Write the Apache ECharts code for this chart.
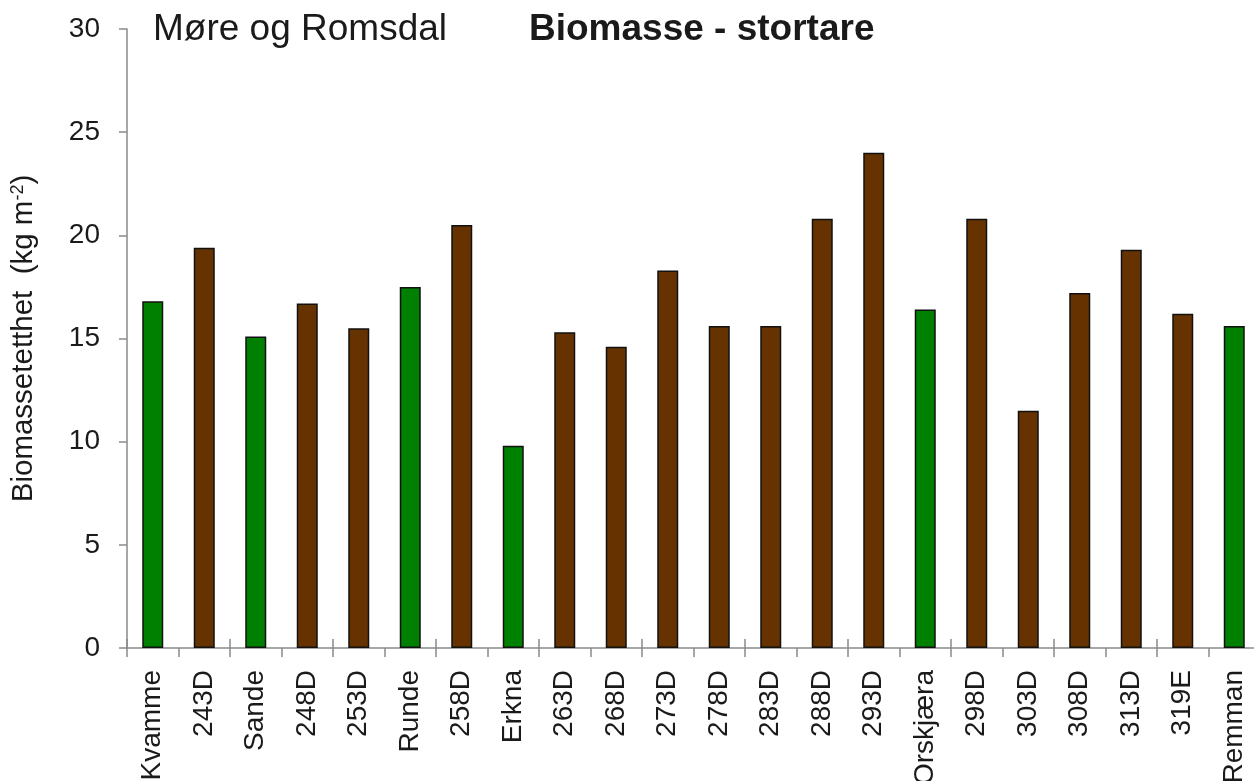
<!DOCTYPE html>
<html>
<head>
<meta charset="utf-8">
<script src="https://cdn.jsdelivr.net/npm/echarts@6/dist/echarts.min.js"></script>
<style>
html,body{margin:0;padding:0;background:#ffffff;}
#chart{width:1254px;height:781px;}
</style>
</head>
<body>
<div id="chart"></div>
<script>
const categories = ['Kvamme','243D','Sande','248D','253D','Runde','258D','Erkna','263D','268D','273D','278D','283D','288D','293D','Orskjæra','298D','303D','308D','313D','319E','Remman'];
const biomass = [16.8,19.4,15.1,16.7,15.5,17.5,20.5,9.8,15.3,14.6,18.3,15.6,15.6,20.8,24.0,16.4,20.8,11.5,17.2,19.3,16.2,15.6];
const referenceSites = ['Kvamme','Sande','Runde','Erkna','Orskjæra','Remman'];
const yTicks = [0,5,10,15,20,25,30];
const regionTitle = 'Møre og Romsdal';
const chartTitle = 'Biomasse - stortare';
const yName = 'Biomassetetthet  (kg m';

const FONT = '"Liberation Sans", Arial, sans-serif';
const GREEN = '#008000';
const BROWN = '#663300';
const AXIS = '#8a8a8a';
const TXT = '#1a1a1a';

const chart = echarts.init(document.getElementById('chart'), null, {renderer:'canvas'});
chart.setOption({
  backgroundColor:'#ffffff',
  animation:false,
  title:[
    {text:regionTitle, left:153, top:11, padding:0,
     textStyle:{fontFamily:FONT,fontSize:37,fontWeight:'normal',color:TXT}},
    {text:chartTitle, left:529, top:11, padding:0,
     textStyle:{fontFamily:FONT,fontSize:37,fontWeight:'bold',color:TXT}}
  ],
  grid:{left:127, right:-6, top:29, bottom:133, containLabel:false, outerBoundsMode:'none'},
  xAxis:[{
    type:'category', data:categories, position:'bottom',
    axisLine:{show:true, lineStyle:{color:AXIS, width:1.5}},
    axisTick:{show:true, length:9, alignWithLabel:false, lineStyle:{color:AXIS, width:1.5}},
    axisLabel:{rotate:90, margin:22, fontFamily:FONT, fontSize:28, color:TXT, interval:0}
  },{
    type:'category', data:categories, position:'bottom',
    axisLine:{show:false},
    axisTick:{show:true, inside:true, length:9, lineStyle:{color:AXIS, width:1.5}},
    axisLabel:{show:false}
  }],
  yAxis:{
    type:'value', min:yTicks[0], max:yTicks[yTicks.length-1], interval:5,
    name:'{n|'+yName+'}{s|-2}{n|)}', nameLocation:'middle', nameGap:88, nameRotate:90,
    nameTextStyle:{fontFamily:FONT, color:TXT,
      rich:{n:{fontFamily:FONT,fontSize:29.5,color:TXT}, s:{fontFamily:FONT,fontSize:18,color:TXT,verticalAlign:'top'}}},
    axisLine:{show:true, lineStyle:{color:AXIS, width:1.5}},
    axisTick:{show:true, length:8, lineStyle:{color:AXIS, width:1.5}},
    splitLine:{show:false},
    axisLabel:{margin:27, fontFamily:FONT, fontSize:28, color:TXT}
  },
  series:[{
    type:'bar', xAxisIndex:0, barWidth:21,
    data:biomass.map((v,i)=>({value:v, itemStyle:{color: referenceSites.includes(categories[i]) ? GREEN : BROWN}})),
    itemStyle:{borderColor:'#111111', borderWidth:1.5}
  }]
});
</script>
</body>
</html>
